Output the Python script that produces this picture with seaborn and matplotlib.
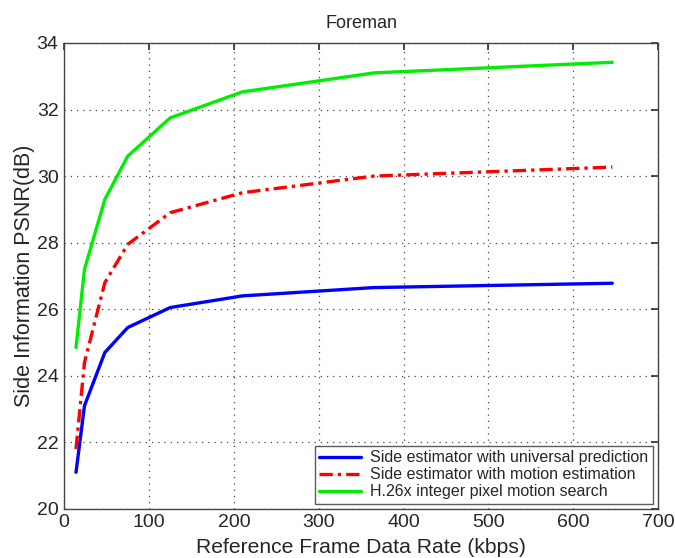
import numpy as np
import pandas as pd
import matplotlib
matplotlib.use("Agg")
import matplotlib.pyplot as plt
import seaborn as sns

# Reference frame data rates (kbps)
rate_kbps = [14, 24, 48, 75, 125, 210, 365, 646]

# Side information PSNR (dB) for each method
psnr_universal = [21.1, 23.1, 24.7, 25.45, 26.05, 26.4, 26.65, 26.78]
psnr_motion_est = [21.8, 24.4, 26.8, 27.95, 28.9, 29.5, 30.0, 30.27]
psnr_h26x = [24.85, 27.2, 29.3, 30.6, 31.75, 32.53, 33.1, 33.42]

labels = [
    "Side estimator with universal prediction",
    "Side estimator with motion estimation",
    "H.26x integer pixel motion search",
]

x_ticks = [0, 100, 200, 300, 400, 500, 600, 700]
y_ticks = [20, 22, 24, 26, 28, 30, 32, 34]

sns.set_theme(style="white")
plt.rcParams["font.family"] = ["Liberation Sans", "DejaVu Sans"]

fig = plt.figure(figsize=(6.75, 5.58), dpi=100)
ax = fig.add_axes([0.095, 0.088, 0.88, 0.835])

series = [psnr_universal, psnr_motion_est, psnr_h26x]
colors = ["#0000ff", "#ff0000", "#00ee00"]
styles = ["-", (0, (4, 1.5, 1, 1.5)), "-"]

for vals, lab, col, ls in zip(series, labels, colors, styles):
    df = pd.DataFrame({"rate": rate_kbps, "psnr": vals})
    sns.lineplot(data=df, x="rate", y="psnr", ax=ax, color=col,
                 linewidth=2.4, label=lab, linestyle=ls)

ax.set_xlim(0, 700)
ax.set_ylim(20, 34)
ax.set_xticks(x_ticks)
ax.set_yticks(y_ticks)
ax.tick_params(axis="both", direction="in", length=5, labelsize=14,
               color="#333333", pad=4, top=True, right=True)
ax.grid(True, linestyle=(0, (1, 4)), color="#444444", linewidth=0.9)
for sp in ax.spines.values():
    sp.set_color("#444444")
    sp.set_linewidth(1.0)

ax.set_title("Foreman", fontsize=13, pad=11)
ax.set_xlabel("Reference Frame Data Rate (kbps)", fontsize=15.2, labelpad=5)
ax.set_ylabel("Side Information PSNR(dB)", fontsize=15.5, labelpad=1)

leg = ax.legend(loc="lower right", fontsize=11.5, frameon=True, fancybox=False,
                borderpad=0.3, labelspacing=0.12, handlelength=2.6,
                handletextpad=0.6, borderaxespad=0.3)
leg.get_frame().set_edgecolor("#333333")
leg.get_frame().set_linewidth(1.0)

fig.savefig("out.png", dpi=100)
